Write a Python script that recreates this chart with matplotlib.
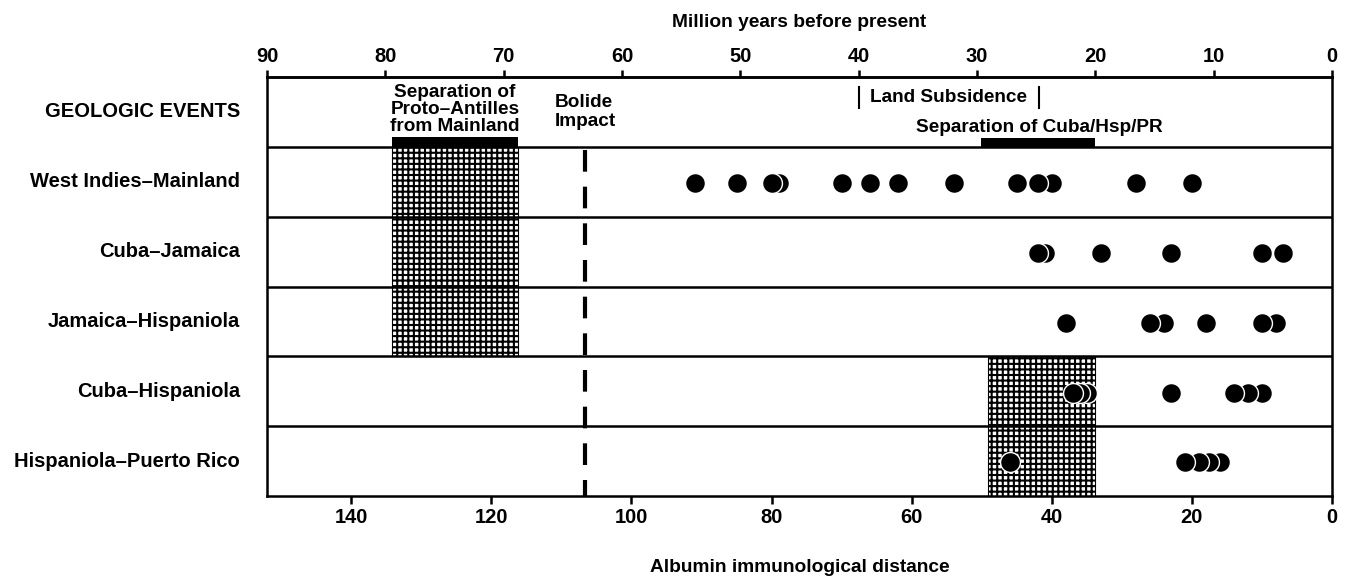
import matplotlib
matplotlib.use('Agg')
import matplotlib.pyplot as plt
import matplotlib.transforms as mtransforms

plt.rcParams['font.family'] = ['Liberation Sans', 'DejaVu Sans']
plt.rcParams['font.weight'] = 'bold'
plt.rcParams['axes.labelweight'] = 'bold'
plt.rcParams['hatch.linewidth'] = 1.5

# Myr per unit of albumin immunological distance
MYR_PER_AID = 0.592
MYR_MAX = 90

row_labels = ['GEOLOGIC EVENTS', 'West Indies–Mainland', 'Cuba–Jamaica',
              'Jamaica–Hispaniola', 'Cuba–Hispaniola', 'Hispaniola–Puerto Rico']

# albumin immunological distances per comparison (row 1..5)
aid_wi_mainland = [91, 85, 80, 79, 70, 66, 62, 54, 45, 42, 40, 28, 20]
aid_cuba_jamaica = [42, 41, 33, 23, 10, 7]
aid_jamaica_hisp = [38, 26, 24, 18, 10, 8]
aid_cuba_hisp = [37, 36, 35, 23, 14, 12, 10]
aid_hisp_pr = [46, 21, 19, 17.5, 16]
aid_rows = [aid_wi_mainland, aid_cuba_jamaica, aid_jamaica_hisp,
            aid_cuba_hisp, aid_hisp_pr]

# geologic events, million years before present
proto_antilles = (79.4, 68.8)
bolide_impact = 63.1
land_subsidence = (40.0, 24.8)
cuba_hsp_pr_bar = (29.7, 20.0)
cuba_hsp_pr_box = (29.1, 20.0)

top_ticks = list(range(90, -1, -10))
bottom_ticks = [140, 120, 100, 80, 60, 40, 20, 0]


def myr_to_aid(m):
    return m / MYR_PER_AID


def aid_to_myr(a):
    return a * MYR_PER_AID


W, H = 1347, 576
fig = plt.figure(figsize=(W / 100, H / 100), dpi=100)
fig.patch.set_facecolor('white')
ax = fig.add_axes([267 / W, 1 - 496 / H, (1332 - 267) / W, (496 - 77) / H])

ax.set_xlim(myr_to_aid(MYR_MAX), 0)
ax.set_ylim(6, 0)

# row separators
for y in range(1, 6):
    ax.axhline(y, color='black', lw=1.8, zorder=3)

# hatched boxes
ax.fill_betweenx([1, 4], myr_to_aid(proto_antilles[0]), myr_to_aid(proto_antilles[1]),
                 facecolor='white', edgecolor='black', hatch='+++', lw=0.8, zorder=1)
ax.fill_betweenx([4, 6], myr_to_aid(cuba_hsp_pr_box[0]), myr_to_aid(cuba_hsp_pr_box[1]),
                 facecolor='white', edgecolor='black', hatch='+++', lw=0.8, zorder=1)

# event bars at the bottom of the geologic row
ax.fill_betweenx([0.86, 1.0], myr_to_aid(proto_antilles[0]), myr_to_aid(proto_antilles[1]),
                 color='black', lw=0, zorder=2)
ax.fill_betweenx([0.88, 1.0], myr_to_aid(cuba_hsp_pr_bar[0]), myr_to_aid(cuba_hsp_pr_bar[1]),
                 color='black', lw=0, zorder=2)

# bolide impact
xb = myr_to_aid(bolide_impact)
ax.plot([xb, xb], [1.04, 6], color='black', lw=3, linestyle=(0, (5.2, 3.6)),
        solid_capstyle='butt', zorder=2)

# land subsidence markers
for m in land_subsidence:
    ax.plot([myr_to_aid(m)] * 2, [0.15, 0.44], color='black', lw=1.5, zorder=2)

fs = 14.5
fs_ev = 13.7
fs_ax = 13.8
ax.text(myr_to_aid(sum(proto_antilles) / 2), 0.46,
        'Separation of\nProto–Antilles\nfrom Mainland', ha='center', va='center',
        fontsize=fs_ev, linespacing=1.0)
ax.text(xb, 0.5, 'Bolide\nImpact', ha='center', va='center', multialignment='left',
        fontsize=fs_ev, linespacing=1.15)
ax.text(myr_to_aid(sum(land_subsidence) / 2), 0.29, 'Land Subsidence',
        ha='center', va='center', fontsize=fs_ev)
ax.text(myr_to_aid(24.7), 0.73, 'Separation of Cuba/Hsp/PR',
        ha='center', va='center', fontsize=fs_ev)

# data points; left-most drawn last so it sits on top
for i, vals in enumerate(aid_rows):
    vs = sorted(vals)
    ax.scatter(vs, [i + 1.52] * len(vs), s=205, c='black', edgecolors='white',
               linewidths=1.0, zorder=5, clip_on=False)

# row labels
trans = mtransforms.blended_transform_factory(ax.transAxes, ax.transData)
x_lab = (240 - 267) / (1332 - 267)
for i, lab in enumerate(row_labels):
    ax.text(x_lab, i + 0.5, lab, transform=trans, ha='right', va='center', fontsize=fs)

# axes styling
for s in ax.spines.values():
    s.set_linewidth(1.8)
ax.set_yticks([])
ax.set_xticks(bottom_ticks)
ax.tick_params(axis='x', direction='out', length=5.5, width=1.8, pad=3, labelsize=fs)
ax.set_xlabel('Albumin immunological distance', fontsize=fs_ax, labelpad=23)

sec = ax.secondary_xaxis('top', functions=(aid_to_myr, myr_to_aid))
sec.set_xticks(top_ticks)
sec.tick_params(direction='out', length=5, width=1.8, pad=3, labelsize=fs)
sec.spines['top'].set_linewidth(1.8)
sec.set_xlabel('Million years before present', fontsize=fs_ax, labelpad=14)

fig.savefig('out.png', dpi=100, facecolor='white')
